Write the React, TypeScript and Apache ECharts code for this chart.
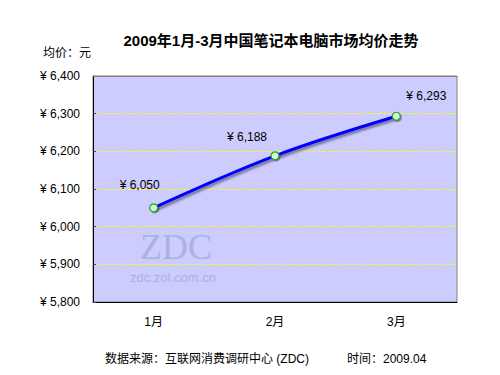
import React, { useEffect, useRef } from "react";
import * as echarts from "echarts";

const categories = ["1月", "2月", "3月"];
const avgPrice = [6050, 6188, 6293];
const yMin = 5800;
const yMax = 6400;
const yInterval = 100;

const FONT = "'Liberation Sans', Arial, 'Noto Sans CJK SC', sans-serif";

const fmt = (v: number) => "¥ " + Math.round(v).toLocaleString("en-US");

export default function App() {
  const ref = useRef<HTMLDivElement>(null);
  useEffect(() => {
    if (!ref.current) return;
    const chart = echarts.init(ref.current, undefined, { renderer: "svg" });
    const labelOffsets = [
      [-14, -2],
      [-28, 2],
      [30, 0],
    ];
    chart.setOption({
      animation: false,
      backgroundColor: "#ffffff",
      textStyle: { fontFamily: FONT },
      title: {
        text: "2009年1月-3月中国笔记本电脑市场均价走势",
        left: 266,
        top: 28,
        textAlign: "center",
        textStyle: { fontSize: 15, fontWeight: "bold", color: "#000", fontFamily: FONT },
      },
      graphic: [
        { type: "text", left: 43, top: 47, style: { text: "均价：元", fill: "#000", font: "12px " + FONT } },
        { type: "text", left: 105, top: 353, style: { text: "数据来源：互联网消费调研中心 (ZDC)", fill: "#000", font: "12px " + FONT } },
        { type: "text", left: 347, top: 353, style: { text: "时间：2009.04", fill: "#000", font: "12px " + FONT } },
        { type: "text", left: 140, top: 229, z: 1, style: { text: "ZDC", fill: "#aab3de", font: "36px 'Liberation Serif', 'DejaVu Serif', serif" } },
        { type: "text", left: 130, top: 271, z: 1, style: { text: "zdc.zol.com.cn", fill: "#aab3de", font: "13px " + FONT } },
      ],
      grid: {
        left: 93,
        top: 76,
        right: 43,
        bottom: 73,
        show: true,
        backgroundColor: "#ccccff",
        borderColor: "#808080",
        borderWidth: 1,
      },
      xAxis: [
        {
          type: "category",
          data: categories,
          boundaryGap: true,
          axisLine: { lineStyle: { color: "#000", width: 1 } },
          axisTick: { inside: true, length: 4, lineStyle: { color: "#000" } },
          axisLabel: { color: "#000", fontSize: 12, margin: 14, fontFamily: FONT },
        },
        {
          type: "category",
          data: categories,
          position: "top",
          z: 4,
          axisLine: { show: true, lineStyle: { color: "#808080", width: 1 } },
          axisTick: { show: false },
          axisLabel: { show: false },
          splitLine: { show: false },
        },
      ],
      yAxis: {
        type: "value",
        min: yMin,
        max: yMax,
        interval: yInterval,
        axisLine: { show: true, lineStyle: { color: "#000", width: 1 } },
        axisTick: { show: true, inside: true, length: 3, lineStyle: { color: "#444" } },
        axisLabel: { color: "#000", fontSize: 12, margin: 13, formatter: (v: number) => fmt(v), fontFamily: FONT },
        splitLine: { show: true, lineStyle: { color: "#ffff00", type: [3, 2], width: 1 } },
      },
      series: [
        {
          type: "line",
          xAxisIndex: 0,
          data: avgPrice.map((v, i) => ({
            value: v,
            label: { offset: labelOffsets[i] },
          })),
          smooth: 0.35,
          z: 5,
          lineStyle: {
            color: "#0000ff",
            width: 3,
            shadowColor: "rgba(0,0,0,0.45)",
            shadowOffsetX: 2,
            shadowOffsetY: 2,
            shadowBlur: 2,
          },
          symbol: "circle",
          symbolSize: 8,
          itemStyle: {
            color: "#ccffcc",
            borderColor: "#339933",
            borderWidth: 1.2,
            shadowColor: "rgba(0,0,0,0.4)",
            shadowOffsetX: 1,
            shadowOffsetY: 1,
            shadowBlur: 1,
          },
          label: {
            show: true,
            position: "top",
            distance: 10,
            color: "#000",
            fontSize: 12,
            fontFamily: FONT,
            formatter: (p: any) => fmt(p.value),
          },
        },
      ],
    });
    return () => chart.dispose();
  }, []);
  return (
    <div
      ref={ref}
      style={{ position: "fixed", left: 0, top: 0, width: 500, height: 375 }}
    />
  );
}
